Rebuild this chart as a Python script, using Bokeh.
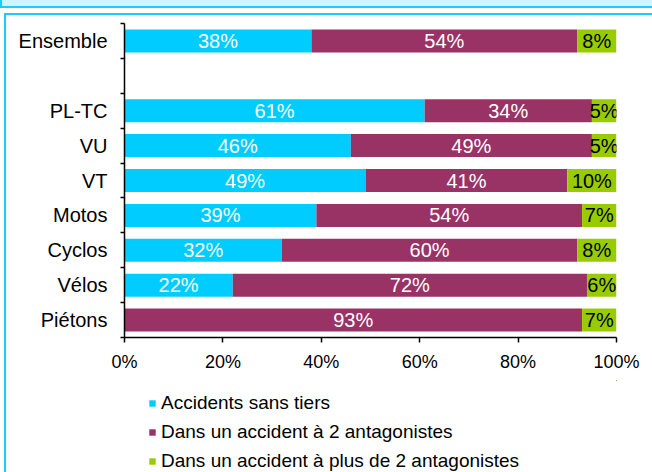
from bokeh.plotting import figure
from bokeh.layouts import column
from bokeh.models import (Range1d, FixedTicker, PrintfTickFormatter, Legend, LegendItem,
                          ColumnDataSource, LabelSet, InlineStyleSheet)
from bokeh.core.properties import value
from bokeh.embed import file_html
from bokeh.resources import INLINE

# ---- data ----
categories = ["Ensemble", "PL-TC", "VU", "VT", "Motos", "Cyclos", "Vélos", "Piétons"]
sans_tiers = [38, 61, 46, 49, 39, 32, 22, 0]
deux_antagonistes = [54, 34, 49, 41, 54, 60, 72, 93]
plus_antagonistes = [8, 5, 5, 10, 7, 8, 6, 7]
series_names = ["Accidents sans tiers",
                "Dans un accident à 2 antagonistes",
                "Dans un accident à plus de 2 antagonistes"]
x_ticks = [0, 20, 40, 60, 80, 100]

colors = ["#00CCFF", "#993366", "#99CC00"]
label_colors = ["white", "white", "black"]
FONT = "Liberation Sans"

# slots: Ensemble on top, then one empty slot, then the rest
n_slots = len(categories) + 1
ypos = []
for i, c in enumerate(categories):
    slot = i if i == 0 else i + 1
    ypos.append(n_slots - slot - 0.5)

W = 652
H_CHART, H_LEG = 380, 92

# ---------------- chart ----------------
p = figure(width=W, height=H_CHART, x_range=Range1d(0, 100), y_range=Range1d(0, n_slots),
           output_backend="svg", toolbar_location=None,
           min_border_left=124, min_border_right=36, min_border_top=23, min_border_bottom=43)
p.xgrid.visible = False
p.ygrid.visible = False
p.outline_line_color = None
p.background_fill_color = "white"
p.border_fill_color = "white"

series = [sans_tiers, deux_antagonistes, plus_antagonistes]
sources = []
lefts = [0] * len(categories)
for k, vals in enumerate(series):
    rights = [l + v for l, v in zip(lefts, vals)]
    src = ColumnDataSource(dict(
        y=ypos, left=lefts, right=rights,
        mid=[(l + r) / 2 for l, r in zip(lefts, rights)],
        txt=[f"{v}%" if v > 0 else "" for v in vals]))
    sources.append(src)
    p.hbar(y="y", left="left", right="right", height=0.66, source=src,
           fill_color=colors[k], line_color=None)
    p.add_layout(LabelSet(x="mid", y="y", text="txt", source=src,
                          text_align="center", text_baseline="middle",
                          text_font=value(FONT), text_font_size="20px",
                          text_color=label_colors[k]))
    lefts = rights

# y axis: labels at slot centres, ticks at slot boundaries
yax = p.yaxis[0]
yax.ticker = FixedTicker(ticks=ypos, minor_ticks=list(range(0, n_slots + 1)))
yax.major_label_overrides = {y: c for y, c in zip(ypos, categories)}
yax.major_tick_line_color = None
yax.major_tick_out = 0
yax.major_tick_in = 0
yax.minor_tick_out = 4
yax.minor_tick_in = 0
yax.minor_tick_line_color = "black"
yax.minor_tick_line_width = 1.5
yax.axis_line_color = "black"
yax.axis_line_width = 1.5
yax.major_label_standoff = 13
yax.major_label_text_font = FONT
yax.major_label_text_font_size = "20px"
yax.major_label_text_color = "black"

xax = p.xaxis[0]
xax.ticker = FixedTicker(ticks=x_ticks, minor_ticks=[])
xax.formatter = PrintfTickFormatter(format="%d%%")
xax.major_tick_out = 5
xax.major_tick_in = 0
xax.major_tick_line_width = 1.5
xax.major_tick_line_color = "black"
xax.axis_line_color = "black"
xax.axis_line_width = 1.5
xax.major_label_standoff = 9
xax.major_label_text_font = FONT
xax.major_label_text_font_size = "18px"
xax.major_label_text_color = "black"

# ---------------- legend strip (its frame is aligned with the chart's) ----------------
# ranges lie far from the data, so only the legend swatches of these renderers show
pl = figure(width=W, height=H_LEG, x_range=Range1d(-20, -10), y_range=Range1d(-20, -10),
            x_axis_type=None, y_axis_type=None,
            output_backend="svg", toolbar_location=None,
            min_border_left=0, min_border_right=0, min_border_top=0, min_border_bottom=0)
pl.xgrid.visible = False
pl.ygrid.visible = False
pl.outline_line_color = None
pl.background_fill_color = "white"
pl.border_fill_color = "white"

items = []
for name, col, src in zip(series_names, colors, sources):
    r = pl.hbar(y="y", left="left", right="right", height=0.66, source=src,
                fill_color=col, line_color=None)
    items.append(LegendItem(label=name, renderers=[r]))

legend = Legend(items=items, location=(24, 0), orientation="vertical",
                label_text_font=FONT, label_text_font_size="19px", label_text_color="black",
                glyph_width=8, glyph_height=8, label_standoff=5, spacing=7, padding=0,
                label_height=20, border_line_color=None, background_fill_alpha=0)
pl.add_layout(legend)

layout = column(p, pl, spacing=0)

# decorative frame of the original document
css = """
:host::before { content: ""; position: absolute; left: 0; top: 0; width: 652px; height: 8px;
  box-sizing: border-box; background: #CCF5FF; border-left: 2px solid #1ECBFF;
  border-bottom: 2px solid #1ECBFF; z-index: 10; pointer-events: none; }
:host::after { content: ""; position: absolute; left: 4px; top: 13px; width: 648px; height: 459px;
  box-sizing: border-box; border-top: 2px solid #1ECBFF; border-left: 2px solid #1ECBFF;
  z-index: 10; pointer-events: none; }
"""
layout.stylesheets = [InlineStyleSheet(css=css)]

open("out.html", "w").write(file_html(layout, INLINE))
